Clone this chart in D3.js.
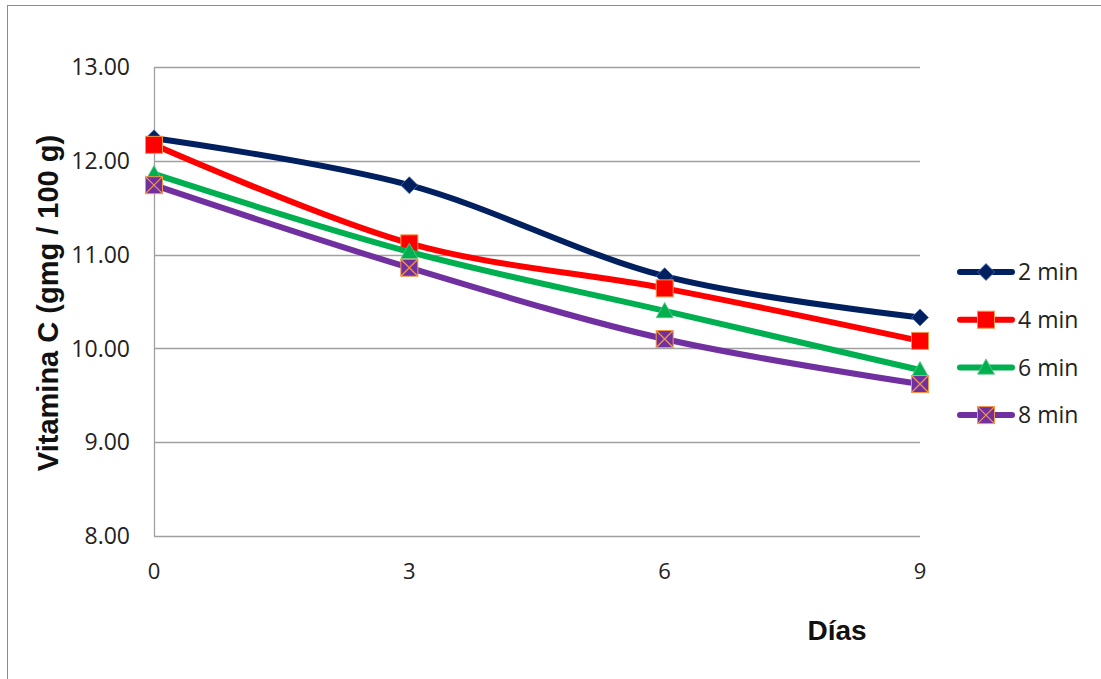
<!DOCTYPE html>
<html>
<head>
<meta charset="utf-8">
<script src="https://cdn.jsdelivr.net/npm/d3@7"></script>
<style>
  body { margin: 0; background: white; }
  svg { display: block; }
</style>
</head>
<body>
<script>
// chart data
var dias = [0, 3, 6, 9];
var yTicks = [8, 9, 10, 11, 12, 13];
var seriesNames = ['2 min', '4 min', '6 min', '8 min'];
var min2 = [12.24, 11.74, 10.77, 10.33];
var min4 = [12.17, 11.12, 10.64, 10.08];
var min6 = [11.86, 11.03, 10.40, 9.77];
var min8 = [11.74, 10.86, 10.10, 9.62];

var width = 1101, height = 679;
var plot = {left: 154, right: 920, top: 67, bottom: 536};

var svg = d3.select('body').append('svg')
  .attr('width', width)
  .attr('height', height);

// outer chart border (only top and left visible in the crop)
svg.append('rect')
  .attr('x', 7.5).attr('y', 5.5)
  .attr('width', 1200).attr('height', 800)
  .style('fill', 'none')
  .style('stroke', '#8c8c8c')
  .style('stroke-width', 1);

var x = d3.scaleLinear().domain([0, 9]).range([plot.left, plot.right]);
var y = d3.scaleLinear().domain([8, 13]).range([plot.bottom, plot.top]);

// gridlines
svg.selectAll('.grid')
  .data(yTicks)
  .enter()
  .append('line')
  .attr('class', 'grid')
  .attr('x1', plot.left).attr('x2', plot.right)
  .attr('y1', function(d) { return Math.round(y(d)) + 0.5; })
  .attr('y2', function(d) { return Math.round(y(d)) + 0.5; })
  .style('stroke', '#a0a0a0')
  .style('stroke-width', 1.3);

// y axis line
svg.append('line')
  .attr('x1', plot.left + 0.5).attr('x2', plot.left + 0.5)
  .attr('y1', plot.top).attr('y2', plot.bottom)
  .style('stroke', '#a0a0a0')
  .style('stroke-width', 1.3);

var tickFont = '"Open Sans", sans-serif';

// y tick labels
svg.selectAll('.ylab')
  .data(yTicks)
  .enter()
  .append('text')
  .attr('class', 'ylab')
  .text(function(d) { return d3.format('.2f')(d); })
  .attr('x', 130)
  .attr('y', function(d) { return y(d); })
  .attr('dy', '0.36em')
  .attr('text-anchor', 'end')
  .style('font-family', tickFont)
  .style('font-size', '23px')
  .style('fill', '#222');

// x tick labels
svg.selectAll('.xlab')
  .data(dias)
  .enter()
  .append('text')
  .attr('class', 'xlab')
  .text(function(d) { return d; })
  .attr('x', function(d) { return x(d); })
  .attr('y', 579)
  .attr('text-anchor', 'middle')
  .style('font-family', tickFont)
  .style('font-size', '22px')
  .style('fill', '#222');

// axis titles
svg.append('text')
  .text('Vitamina C (gmg / 100 g)')
  .attr('transform', 'translate(58,303)rotate(-90)')
  .attr('text-anchor', 'middle')
  .style('font-family', '"Liberation Sans", Arial, sans-serif')
  .style('font-weight', 'bold')
  .style('font-size', '29px')
  .style('fill', '#111');

svg.append('text')
  .text('Días')
  .attr('x', 837)
  .attr('y', 640)
  .attr('text-anchor', 'middle')
  .style('font-family', '"Liberation Sans", Arial, sans-serif')
  .style('font-weight', 'bold')
  .style('font-size', '28px')
  .style('fill', '#111');

var series = [
  {name: seriesNames[0], values: min2, color: '#002060', marker: 'diamond', fill: '#002060', edge: '#4a6fb5'},
  {name: seriesNames[1], values: min4, color: '#ff0000', marker: 'square', fill: '#ff0000', edge: '#f79646'},
  {name: seriesNames[2], values: min6, color: '#00b050', marker: 'triangle', fill: '#00b050', edge: '#5cc98a'},
  {name: seriesNames[3], values: min8, color: '#7030a0', marker: 'xsquare', fill: '#7030a0', edge: '#f79646'}
];

var line = d3.line()
  .x(function(d) { return x(d.dia); })
  .y(function(d) { return y(d.v); })
  .curve(d3.curveCardinal.tension(0));

function drawMarker(g, type, cx, cy, fill, edge) {
  if (type == 'diamond') {
    var r = 8.5;
    g.append('path')
      .attr('d', `M${cx},${cy - r}L${cx + r},${cy}L${cx},${cy + r}L${cx - r},${cy}Z`)
      .style('fill', fill).style('stroke', edge).style('stroke-width', 0.8);
  } else if (type == 'square' || type == 'xsquare') {
    var s = 8.5;
    g.append('rect')
      .attr('x', cx - s).attr('y', cy - s)
      .attr('width', 2 * s).attr('height', 2 * s)
      .style('fill', fill).style('stroke', edge).style('stroke-width', 1);
    if (type == 'xsquare') {
      g.append('path')
        .attr('d', `M${cx - s},${cy - s}L${cx + s},${cy + s}M${cx + s},${cy - s}L${cx - s},${cy + s}`)
        .style('stroke', edge).style('stroke-width', 1.2);
    }
  } else if (type == 'triangle') {
    var t = 8.5;
    g.append('path')
      .attr('d', `M${cx},${cy - t}L${cx + t},${cy + t * 0.8}L${cx - t},${cy + t * 0.8}Z`)
      .style('fill', fill).style('stroke', edge).style('stroke-width', 0.8);
  }
}

series.forEach(function(s, i) {
  var pts = s.values.map(function(v, j) { return {dia: dias[j], v: v}; });
  var g = svg.append('g').attr('class', 'series');
  g.append('path')
    .datum(pts)
    .attr('d', line)
    .style('fill', 'none')
    .style('stroke', s.color)
    .style('stroke-width', 6)
    .style('stroke-linejoin', 'round');
  pts.forEach(function(p) {
    drawMarker(g, s.marker, x(p.dia), y(p.v), s.fill, s.edge);
  });

  // legend entry
  var ly = 272 + i * 47.7;
  var lg = svg.append('g').attr('class', 'legend');
  lg.append('line')
    .attr('x1', 960).attr('x2', 1012)
    .attr('y1', ly).attr('y2', ly)
    .style('stroke', s.color)
    .style('stroke-width', 6)
    .style('stroke-linecap', 'round');
  drawMarker(lg, s.marker, 986, ly, s.fill, s.edge);
  lg.append('text')
    .text(s.name)
    .attr('x', 1018)
    .attr('y', ly)
    .attr('dy', '0.36em')
    .style('font-family', tickFont)
    .style('font-size', '23px')
    .style('fill', '#222');
});
</script>
</body>
</html>
